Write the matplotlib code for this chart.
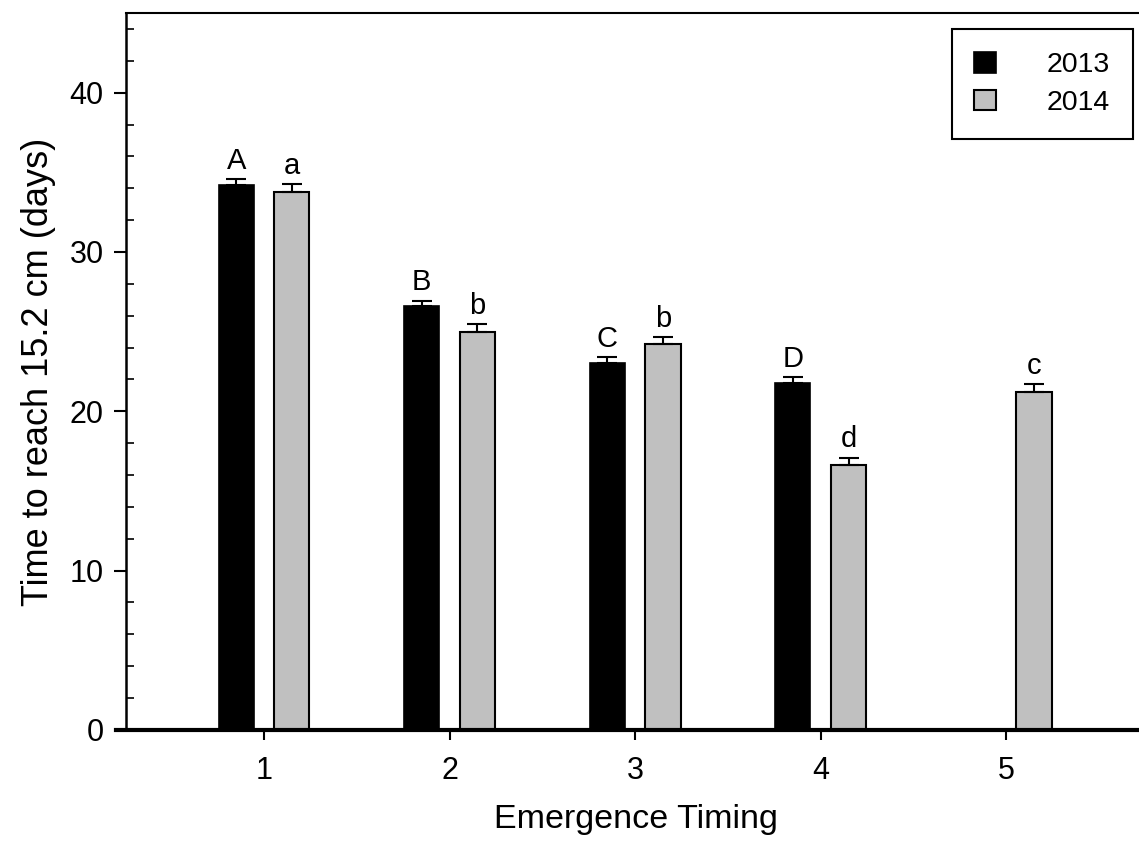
import numpy as np
import matplotlib
matplotlib.use("Agg")
import matplotlib.pyplot as plt
from matplotlib.lines import Line2D
from matplotlib.ticker import MultipleLocator

plt.rcParams['font.family'] = ['Liberation Sans', 'DejaVu Sans']

# data
timing = [1, 2, 3, 4, 5]
mean_2013 = [34.2, 26.6, 23.05, 21.8, np.nan]
se_2013 = [0.35, 0.35, 0.35, 0.35, np.nan]
mean_2014 = [33.75, 25.0, 24.2, 16.6, 21.2]
se_2014 = [0.5, 0.45, 0.45, 0.5, 0.5]
letters_2013 = ['A', 'B', 'C', 'D', '']
letters_2014 = ['a', 'b', 'b', 'd', 'c']

fig = plt.figure(figsize=(11.39, 8.48), dpi=100)
ax = fig.add_axes([0.1106, 0.1392, 0.895, 0.8455])

x = np.array(timing, dtype=float)
w = 0.19
off = 0.15

ax.bar(x - off, mean_2013, w, color='black', edgecolor='black', linewidth=1.2, label='2013', zorder=2)
ax.bar(x + off, mean_2014, w, color='#c0c0c0', edgecolor='black', linewidth=1.5, label='2014', zorder=2)

err_kw = dict(fmt='none', ecolor='black', elinewidth=1.5, capsize=7, capthick=1.5, zorder=3)
ax.errorbar(x - off, mean_2013, yerr=[np.zeros(5), se_2013], **err_kw)
ax.errorbar(x + off, mean_2014, yerr=[np.zeros(5), se_2014], **err_kw)

for xi, m, s, t in zip(x, mean_2013, se_2013, letters_2013):
    if t:
        ax.annotate(t, (xi - off, m + s), xytext=(0, 3), textcoords='offset points',
                    ha='center', va='bottom', fontsize=21)
for xi, m, s, t in zip(x, mean_2014, se_2014, letters_2014):
    ax.annotate(t, (xi + off, m + s), xytext=(0, 3), textcoords='offset points',
                ha='center', va='bottom', fontsize=21)

ax.set_xlim(0.256, 5.75)
ax.set_ylim(0, 45)
ax.set_xticks(timing)
ax.yaxis.set_major_locator(MultipleLocator(10))
ax.yaxis.set_minor_locator(MultipleLocator(2))
ax.tick_params(axis='both', which='major', labelsize=22, width=1.5)
ax.tick_params(axis='x', which='major', direction='out', length=7, pad=12)
ax.tick_params(axis='y', which='major', direction='out', length=9, pad=7)
ax.tick_params(axis='y', which='minor', direction='in', length=6, width=1.2)

ax.spines['right'].set_visible(False)
ax.spines['top'].set_linewidth(1.5)
ax.spines['left'].set_linewidth(1.8)
ax.spines['bottom'].set_visible(False)
# bottom axis line runs a bit past the y axis on the left
ax.add_line(Line2D([-0.01, 1.05], [0, 0], transform=ax.transAxes, color='black',
                   linewidth=3, clip_on=False, zorder=5))

ax.set_xlabel('Emergence Timing', fontsize=24.5, labelpad=13)
ax.set_ylabel('Time to reach 15.2 cm (days)', fontsize=26, labelpad=10)

leg = ax.legend(loc='upper right', bbox_to_anchor=(1133 / 1139, 1 - 29 / 848),
                bbox_transform=fig.transFigure, fontsize=20.5, frameon=True, fancybox=False,
                edgecolor='black', framealpha=1, handlelength=0.75, handleheight=0.75,
                handletextpad=1.8, labelspacing=0.4, borderpad=0.8, borderaxespad=0)
leg.get_frame().set_linewidth(1.5)

fig.savefig('out.png', dpi=100)
